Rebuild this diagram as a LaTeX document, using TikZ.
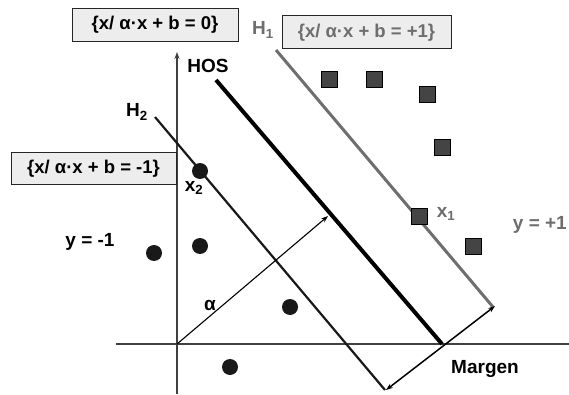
\documentclass[tikz,border=0pt]{standalone}
\usepackage{fontspec}
\setmainfont{Liberation Sans}
\usetikzlibrary{arrows.meta}
\definecolor{boxfill}{HTML}{EDEDED}
\definecolor{grayink}{HTML}{6E6E6E}
\definecolor{sqfill}{HTML}{444444}
\tikzset{
  eqbox/.style={draw=black!85, line width=1pt, fill=boxfill, minimum height=33pt, inner sep=0pt, font=\fontsize{18.5}{21}\selectfont\bfseries},
  lbl/.style={inner sep=0pt, font=\fontsize{19}{22}\selectfont\bfseries},
  dot/.style={circle, fill=black!90, minimum size=16pt, inner sep=0pt},
  sq/.style={rectangle, draw=black, line width=0.8pt, fill=sqfill, minimum size=16pt, inner sep=0pt},
  axis/.style={line width=1.1pt, draw=black!75},
  tip/.style={-{Stealth[length=7pt,width=5pt]}},
}
\begin{document}
\begin{tikzpicture}[x=1pt,y=-1pt]
\useasboundingbox (0,0) rectangle (569,395);
\fill[white] (0,0) rectangle (569,395);
% axes
\coordinate (yb) at (177,394);
\coordinate (yt) at (177,52);
\coordinate (xl) at (116,344);
\coordinate (xr) at (569,344);
\coordinate (o) at (177,344);
\draw[axis, tip] (yb) -- (yt);
\draw[axis] (xl) -- (xr);
% lines
\coordinate (h2a) at (155,117);
\coordinate (h2b) at (385,390);
\coordinate (hosa) at (216,80);
\coordinate (hosb) at (442,344);
\coordinate (h1a) at (276,50);
\coordinate (h1b) at (493,307);
\draw[line width=2.2pt, black!90] (h2a) -- (h2b);
\draw[line width=4pt, black] (hosa) -- (hosb);
\draw[line width=3pt, grayink] (h1a) -- (h1b);
% alpha vector
\coordinate (at) at (328,216);
\draw[line width=1.1pt, black, tip] (o) -- (at);
% margin arrow
\coordinate (m1) at (386,390);
\coordinate (m2) at (495,306);
\draw[line width=1.5pt, black, {Stealth[length=7pt,width=5pt]}-{Stealth[length=7pt,width=5pt]}] (m1) -- (m2);
% boxes
\node[eqbox, minimum width=166pt] (b0) at (155,25) {\{x/ α·x + b = 0\}};
\node[eqbox, minimum width=165pt, minimum height=32pt] (bm) at (93.5,169) {\{x/ α·x + b = -1\}};
\node[eqbox, minimum width=169pt, text=grayink] (bp) at (366.5,32.5) {\{x/ α·x + b = +1\}};
% points
\node[dot] (c1) at (200,171) {};
\node[dot] (c2) at (154,253) {};
\node[dot] (c3) at (200,246) {};
\node[dot] (c4) at (290,307) {};
\node[dot] (c5) at (230,367) {};
\node[sq] (s1) at (329,79) {};
\node[sq] (s2) at (374,79) {};
\node[sq] (s3) at (427,94) {};
\node[sq] (s4) at (442,147) {};
\node[sq] (s5) at (419,216) {};
\node[sq] (s6) at (473,246) {};
% labels
\node[lbl, text=grayink] (lh1) at (263,30) {H\textsubscript{1}};
\node[lbl] (lh2) at (137,112) {H\textsubscript{2}};
\node[lbl] (lhos) at (208,66) {HOS};
\node[lbl] (lx2) at (194,188) {x\textsubscript{2}};
\node[lbl, text=grayink] (lx1) at (446,214) {x\textsubscript{1}};
\node[lbl] (lym) at (90,242) {y = -1};
\node[lbl, text=grayink, anchor=east] (lyp) at (567,225) {y = +1};
\node[lbl] (la) at (210,305) {α};
\node[lbl] (lm) at (485,369) {Margen};
\end{tikzpicture}
\end{document}
